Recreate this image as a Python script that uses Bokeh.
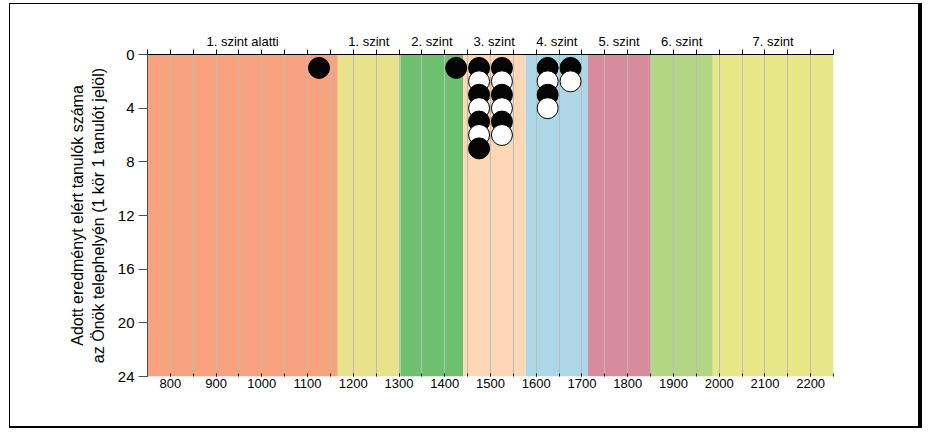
from bokeh.plotting import figure
from bokeh.models import Range1d, LinearAxis, FixedTicker
from bokeh.embed import file_html
from bokeh.resources import INLINE

# ---- data ----
level_names = ["1. szint alatti", "1. szint", "2. szint", "3. szint",
               "4. szint", "5. szint", "6. szint", "7. szint"]
level_edges = [750, 1166, 1303, 1440, 1577, 1713, 1849, 1986, 2250]
level_colors = ["#F7A17E", "#E8E28C", "#6DC070", "#FDD7B5",
                "#ABD7E6", "#D68C9C", "#B2D684", "#E8E788"]
bin_centers = [1125, 1425, 1475, 1525, 1625, 1675]
bin_counts = [1, 1, 7, 6, 4, 2]
x_tick_labels = list(range(800, 2201, 100))
y_ticks = [0, 4, 8, 12, 16, 20, 24]

FONT = "Liberation Sans"
ticks50 = list(range(750, 2251, 50))

p = figure(width=913, height=425, x_range=Range1d(750, 2250), y_range=Range1d(24, 0),
           output_backend="svg", toolbar_location=None,
           min_border_left=137, min_border_right=90, min_border_top=50, min_border_bottom=53)
p.styles = {"border-style": "solid", "border-color": "black",
            "border-width": "1px 4px 2px 1px",
            "margin-left": "9px", "margin-top": "3px"}
p.outline_line_color = None
p.background_fill_color = "white"

# bands
p.quad(left=level_edges[:-1], right=level_edges[1:], bottom=24, top=0,
       fill_color=level_colors, line_color=None, level="image")

# dots
xs, ys, fills = [], [], []
for c, n in zip(bin_centers, bin_counts):
    for k in range(1, n + 1):
        xs.append(c)
        ys.append(k)
        fills.append("#050505" if k % 2 == 1 else "#FFFFFF")
p.scatter(xs, ys, size=21, fill_color=fills, line_color="black", line_width=1)

# grid
p.ygrid.visible = False
p.xgrid.ticker = FixedTicker(ticks=ticks50)
p.xgrid.grid_line_color = "#BBBBBB"
p.xgrid.grid_line_width = 1

# bottom axis
bx = p.xaxis[0]
bx.ticker = FixedTicker(ticks=x_tick_labels, minor_ticks=ticks50)
bx.axis_line_color = None
bx.major_tick_line_color = "#222222"
bx.minor_tick_line_color = "#222222"
bx.major_tick_in = 3
bx.major_tick_out = 0
bx.minor_tick_in = 3
bx.minor_tick_out = 0
bx.major_label_standoff = 2
bx.major_label_text_font = FONT
bx.major_label_text_font_size = "13px"
bx.major_label_text_color = "black"

# left axis
ly = p.yaxis[0]
ly.ticker = FixedTicker(ticks=y_ticks)
ly.axis_line_color = "#505050"
ly.major_tick_line_color = "#505050"
ly.minor_tick_line_color = None
ly.major_tick_in = 0
ly.major_tick_out = 9
ly.major_label_standoff = 4
ly.major_label_text_font = FONT
ly.major_label_text_font_size = "15px"
ly.major_label_text_color = "black"
ly.axis_label = "Adott eredményt elért tanulók száma\naz Önök telephelyén (1 kör 1 tanulót jelöl)"
ly.axis_label_text_font = FONT
ly.axis_label_text_font_size = "16px"
ly.axis_label_text_font_style = "normal"
ly.axis_label_text_color = "black"
ly.axis_label_standoff = 8

# top axis with level names
centers = [int(round((a + b) / 2)) for a, b in zip(level_edges[:-1], level_edges[1:])]
top = LinearAxis(ticker=FixedTicker(ticks=centers, minor_ticks=ticks50),
                 major_label_overrides={c: n for c, n in zip(centers, level_names)})
top.axis_line_color = "black"
top.major_tick_line_color = None
top.minor_tick_line_color = "black"
top.minor_tick_in = 0
top.minor_tick_out = 5
top.major_tick_out = 0
top.major_tick_in = 0
top.major_label_standoff = 1
top.major_label_text_font = FONT
top.major_label_text_font_size = "13px"
top.major_label_text_color = "black"
p.add_layout(top, "above")

open("out.html", "w").write(file_html(p, INLINE))
